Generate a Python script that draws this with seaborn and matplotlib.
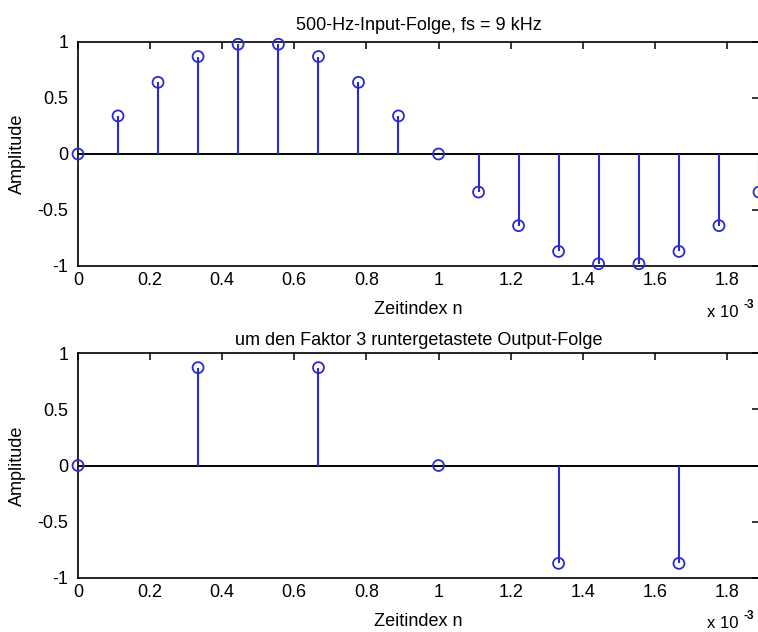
import matplotlib
matplotlib.use("Agg")
import matplotlib.pyplot as plt
import seaborn as sns
import pandas as pd
from matplotlib.ticker import FixedLocator, FuncFormatter

# ---- data ----
t_in_ms = [0.0, 0.111, 0.222, 0.333, 0.444, 0.556, 0.667, 0.778, 0.889,
           1.0, 1.111, 1.222, 1.333, 1.444, 1.556, 1.667, 1.778, 1.889]
amp_in = [0.0, 0.34, 0.64, 0.87, 0.98, 0.98, 0.87, 0.64, 0.34,
          0.0, -0.34, -0.64, -0.87, -0.98, -0.98, -0.87, -0.64, -0.34]
t_out_ms = [0.0, 0.333, 0.667, 1.0, 1.333, 1.667]
amp_out = [0.0, 0.87, 0.87, 0.0, -0.87, -0.87]

title_top = "500-Hz-Input-Folge, fs = 9 kHz"
title_bottom = "um den Faktor 3 runtergetastete Output-Folge"
xlabel = "Zeitindex n"
ylabel = "Amplitude"
xticks_ms = [0, 0.2, 0.4, 0.6, 0.8, 1.0, 1.2, 1.4, 1.6, 1.8]
yticks = [-1, -0.5, 0, 0.5, 1]
x_max_ms = 1.889
offset_base = "x 10"
offset_exp = "-3"

df_in = pd.DataFrame({"t": [v * 1e-3 for v in t_in_ms], "a": amp_in})
df_out = pd.DataFrame({"t": [v * 1e-3 for v in t_out_ms], "a": amp_out})

sns.set_theme(style="white")
plt.rcParams["font.family"] = ["Liberation Sans", "DejaVu Sans"]
plt.rcParams["text.color"] = "black"
plt.rcParams["axes.labelcolor"] = "black"

W, H = 758, 632
fig = plt.figure(figsize=(W / 100, H / 100), dpi=100)
fig.patch.set_facecolor("white")

blue = "#2a2ad2"
FS = 13

def panel(rect, df, title, title_pad):
    ax = fig.add_axes(rect)
    ax.set_facecolor("white")
    ax.axhline(0, color="black", lw=1.4, zorder=1)
    ax.vlines(df["t"], 0, df["a"], color=blue, lw=1.5, zorder=2)
    sns.scatterplot(data=df, x="t", y="a", ax=ax, marker="o", s=62,
                    facecolors="none", edgecolor=blue, linewidth=1.3,
                    zorder=3, clip_on=False)
    ax.set_xlim(0, x_max_ms * 1e-3)
    ax.set_ylim(-1, 1)
    ax.xaxis.set_major_locator(FixedLocator([v * 1e-3 for v in xticks_ms]))
    ax.xaxis.set_major_formatter(FuncFormatter(lambda v, p: f"{v*1e3:g}"))
    ax.yaxis.set_major_locator(FixedLocator(yticks))
    ax.yaxis.set_major_formatter(FuncFormatter(lambda v, p: f"{v:g}"))
    ax.tick_params(direction="in", length=5, width=1.1, top=True, right=True,
                   labelsize=FS, colors="black", labelcolor="black")
    ax.tick_params(axis="y", pad=7)
    ax.tick_params(axis="x", pad=4)
    for s in ["left", "bottom", "top", "right"]:
        ax.spines[s].set_visible(True)
        ax.spines[s].set_color("black")
        ax.spines[s].set_linewidth(1.2)
    ax.set_title(title, fontsize=FS, pad=title_pad, color="black")
    ax.set_xlabel(xlabel, fontsize=FS, labelpad=9, color="black")
    ax.set_ylabel(ylabel, fontsize=FS, color="black")
    ax.yaxis.set_label_coords(-(78 - 26) / (759 - 78), 0.5)
    return ax

ax1 = panel([78 / W, 1 - 266 / H, (759 - 78) / W, 224 / H], df_in, title_top, 9)
ax2 = panel([78 / W, 1 - 578 / H, (759 - 78) / W, 225 / H], df_out, title_bottom, 6)

for base_y in (317, 628):
    t = fig.text(707 / W, 1 - base_y / H, offset_base, fontsize=12,
                 ha="left", va="baseline")
    fig.text(0, 0, offset_exp, fontsize=8.5, fontweight="bold",
             transform=matplotlib.transforms.offset_copy(
                 fig.transFigure, fig=fig, x=743, y=H - base_y + 9, units="dots"),
             ha="left", va="baseline")

fig.savefig("out.png", dpi=100, facecolor="white")
